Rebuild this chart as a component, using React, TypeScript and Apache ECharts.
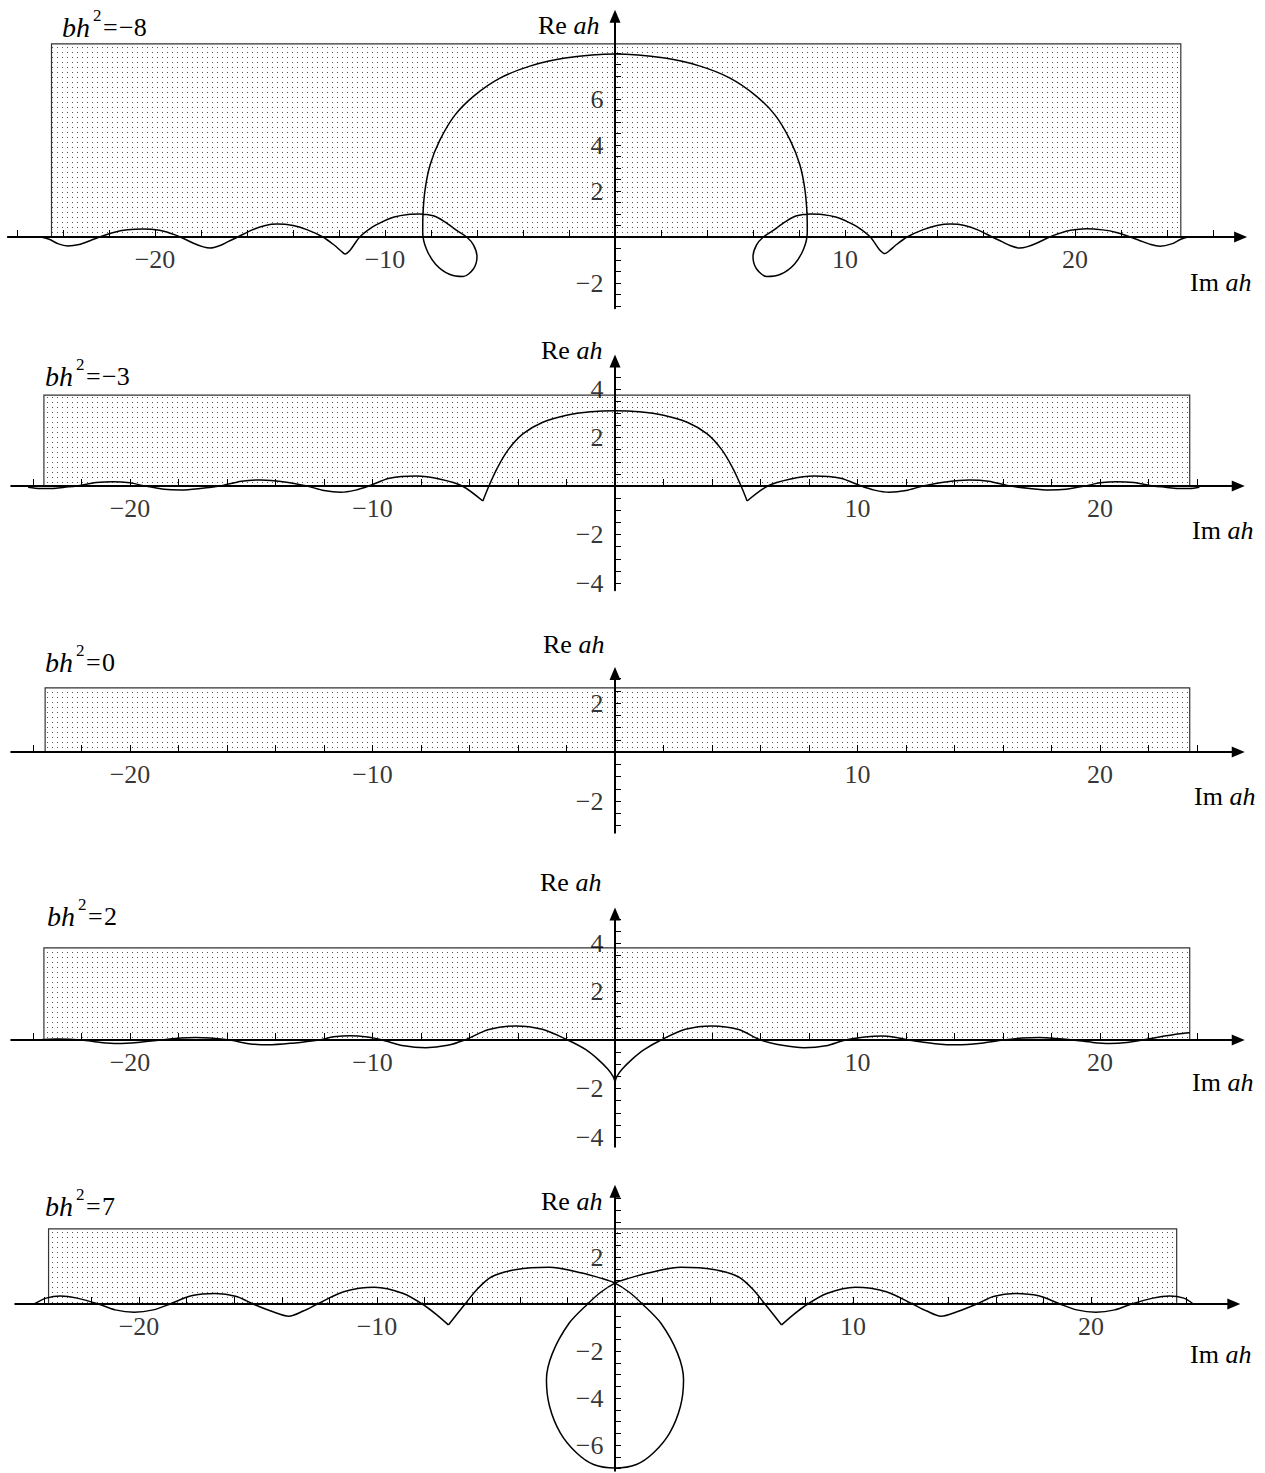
import React, { useEffect, useRef } from 'react';
import * as echarts from 'echarts';

const FONT = '"Liberation Serif", "Times New Roman", serif';

// ---------- data ----------
const titleValues = ['\u22128', '\u22123', '0', '2', '7'];
const xLabelValues = [-20, -10, 10, 20];
const yLabelValues = [
  [-2, 2, 4, 6],
  [-4, -2, 2, 4],
  [-2, 2],
  [-4, -2, 2, 4],
  [-6, -4, -2, 2],
];
// shaded region per panel: [left, right, top]
const rects = [
  [-24.5, 24.6, 8.4],
  [-23.55, 23.7, 3.75],
  [-23.5, 23.7, 2.62],
  [-23.55, 23.7, 3.8],
  [-23.8, 23.6, 3.2],
];

// bh^2 = -8
const curve1: any[] = [
  [-24.95, 0.0], [-24.6, -0.1], [-24.2, -0.3], [-23.8, -0.39], [-23.3, -0.33], [-22.8, -0.15], [-22.4, 0.0],
  [-21.8, 0.2], [-21.2, 0.31], [-20.5, 0.35], [-19.8, 0.29], [-19.3, 0.15], [-18.9, 0.0], [-18.3, -0.28],
  [-17.9, -0.43], [-17.6, -0.48], [-17.2, -0.38], [-16.8, -0.19], [-16.4, 0.0], [-15.8, 0.3], [-15.2, 0.5],
  [-14.7, 0.56], [-14.0, 0.5], [-13.4, 0.32], [-12.7, 0.0], [-12.2, -0.36], [-11.9, -0.62], [-11.74, -0.74],
  [-11.5, -0.55], [-11.1, 0.0], [-10.6, 0.4], [-10.1, 0.67], [-9.6, 0.87], [-9.0, 0.98], [-8.5, 1.0],
  [-7.9, 0.92], [-7.4, 0.66], [-6.9, 0.3], [-6.45, 0.0], [-6.15, -0.35], [-6.0, -0.85], [-6.15, -1.38],
  [-6.6, -1.72], [-7.2, -1.62], [-7.8, -1.18], [-8.2, -0.52], [-8.36, 0.2], [-8.35, 0.96], [-8.26, 2.04],
  [-8.04, 3.13], [-7.61, 4.22], [-6.96, 5.3], [-6.09, 6.17], [-5.0, 6.91], [-3.7, 7.43], [-2.17, 7.78],
  [0, 7.96], [2.17, 7.78], [3.7, 7.43], [5.0, 6.91], [6.09, 6.17], [6.96, 5.3], [7.61, 4.22], [8.04, 3.13],
  [8.26, 2.04], [8.35, 0.96], [8.36, 0.2], [8.2, -0.52], [7.8, -1.18], [7.2, -1.62], [6.6, -1.72],
  [6.15, -1.38], [6.0, -0.85], [6.15, -0.35], [6.45, 0.0], [6.9, 0.3], [7.4, 0.66], [7.9, 0.92], [8.5, 1.0],
  [9.0, 0.98], [9.6, 0.87], [10.1, 0.67], [10.6, 0.4], [11.1, 0.0], [11.5, -0.55], [11.74, -0.72],
  [11.9, -0.62], [12.2, -0.36], [12.7, 0.0], [13.4, 0.32], [14.0, 0.5], [14.6, 0.56], [15.2, 0.5],
  [15.8, 0.3], [16.4, 0.0], [16.8, -0.19], [17.2, -0.38], [17.6, -0.48], [17.9, -0.43], [18.3, -0.28],
  [18.9, 0.0], [19.3, 0.15], [19.8, 0.29], [20.5, 0.36], [21.2, 0.31], [21.8, 0.2], [22.4, 0.0],
  [22.8, -0.15], [23.3, -0.33], [23.7, -0.4], [24.2, -0.3], [24.6, -0.1], [24.9, 0.0],
];

// bh^2 = -3 (null = cusp split)
const curve2: any[] = [
  [-24.2, -0.05], [-23.7, -0.1], [-23.2, -0.1], [-22.7, -0.05], [-22.2, 0.0], [-21.4, 0.14], [-20.7, 0.18],
  [-20.0, 0.13], [-19.4, 0.0], [-18.6, -0.13], [-17.9, -0.16], [-17.1, -0.1], [-16.3, 0.0], [-15.4, 0.2],
  [-14.6, 0.25], [-13.7, 0.18], [-12.7, 0.0], [-12.0, -0.19], [-11.3, -0.26], [-10.7, -0.17], [-10.15, 0.0],
  [-9.3, 0.32], [-8.2, 0.41], [-7.2, 0.28], [-6.3, 0.0], [-5.45, -0.62],
  null,
  [-5.45, -0.62], [-5.2, 0.0], [-4.85, 0.75], [-4.4, 1.5], [-3.8, 2.15], [-3.0, 2.62], [-2.0, 2.92],
  [-1.0, 3.06], [0, 3.1], [1.0, 3.06], [2.0, 2.92], [3.0, 2.62], [3.8, 2.15], [4.4, 1.5], [4.85, 0.75],
  [5.2, 0.0], [5.45, -0.62],
  null,
  [5.45, -0.62], [6.3, 0.0], [7.2, 0.28], [8.2, 0.41], [9.3, 0.32], [10.15, 0.0], [10.7, -0.17], [11.3, -0.26],
  [12.0, -0.19], [12.7, 0.0], [13.7, 0.18], [14.6, 0.25], [15.4, 0.2], [16.3, 0.0], [17.1, -0.1], [17.9, -0.16],
  [18.6, -0.13], [19.4, 0.0], [20.0, 0.13], [20.7, 0.18], [21.4, 0.14], [22.2, 0.0], [22.7, -0.05],
  [23.2, -0.1], [23.7, -0.1], [24.1, -0.05],
];

// bh^2 = 0 : no curve
const curve3: any[] = [];

// bh^2 = 2
const curve4: any[] = [
  [-23.8, 0.0], [-23.0, 0.04], [-22.0, 0.0], [-21.2, -0.1], [-20.5, -0.14], [-19.7, -0.1], [-18.7, 0.0],
  [-17.9, 0.08], [-17.3, 0.1], [-16.7, 0.08], [-15.9, 0.0], [-15.1, -0.15], [-14.3, -0.2], [-13.3, -0.13],
  [-12.2, 0.0], [-11.6, 0.13], [-10.9, 0.18], [-10.2, 0.12], [-9.6, 0.0], [-8.7, -0.24], [-7.8, -0.32],
  [-6.9, -0.22], [-6.2, 0.0], [-5.2, 0.43], [-4.1, 0.58], [-3.0, 0.44], [-1.95, 0.0], [-1.2, -0.4],
  [-0.7, -0.8], [-0.3, -1.2], [-0.08, -1.5], [0, -1.72],
  null,
  [0, -1.72], [0.08, -1.5], [0.3, -1.2], [0.7, -0.8], [1.2, -0.4], [1.9, 0.0], [2.9, 0.44], [4.0, 0.58],
  [5.1, 0.43], [6.0, 0.0], [6.9, -0.22], [7.8, -0.32], [8.7, -0.24], [9.5, 0.0], [10.3, 0.12], [11.0, 0.16],
  [11.6, 0.1], [12.1, 0.0], [13.2, -0.15], [14.1, -0.2], [15.1, -0.13], [16.0, 0.0], [16.8, 0.08],
  [17.5, 0.1], [18.2, 0.06], [18.9, 0.0], [19.7, -0.1], [20.4, -0.14], [21.1, -0.1], [21.75, 0.0],
  [22.6, 0.15], [23.2, 0.25], [23.7, 0.3],
];

// bh^2 = 7
const curve5: any[] = [
  [-24.4, 0.0], [-23.9, 0.25], [-23.3, 0.34], [-22.6, 0.25], [-21.7, 0.0], [-21.0, -0.25], [-20.2, -0.35],
  [-19.4, -0.25], [-18.7, 0.0], [-17.8, 0.35], [-16.8, 0.45], [-15.9, 0.32], [-15.2, 0.0], [-14.4, -0.32],
  [-13.7, -0.52], [-13.1, -0.3], [-12.5, 0.0], [-11.4, 0.52], [-10.1, 0.71], [-8.9, 0.45], [-8.1, 0.0],
  [-7.5, -0.45], [-7.0, -0.89],
  null,
  [-7.0, -0.89], [-6.3, 0.0], [-5.8, 0.62], [-5.18, 1.16], [-4.14, 1.47], [-2.77, 1.56], [-1.39, 1.32],
  [-0.6, 1.1], [0, 0.89], [0.6, 0.5], [1.15, 0.0], [1.93, -0.82], [2.63, -2.1], [2.88, -3.22], [2.75, -4.35],
  [2.3, -5.48], [1.62, -6.33], [0.9, -6.83], [0, -6.98], [-0.9, -6.83], [-1.62, -6.33], [-2.3, -5.48],
  [-2.75, -4.35], [-2.88, -3.22], [-2.63, -2.1], [-1.93, -0.82], [-1.15, 0.0], [-0.6, 0.5], [0, 0.89],
  [0.6, 1.1], [1.39, 1.32], [2.77, 1.56], [4.14, 1.47], [5.18, 1.16], [5.8, 0.62], [6.3, 0.0], [7.0, -0.89],
  null,
  [7.0, -0.89], [7.5, -0.45], [8.1, 0.0], [8.9, 0.45], [10.1, 0.71], [11.4, 0.52], [12.5, 0.0], [13.1, -0.3],
  [13.7, -0.52], [14.4, -0.32], [15.2, 0.0], [15.9, 0.32], [16.8, 0.45], [17.8, 0.35], [18.7, 0.0],
  [19.4, -0.25], [20.2, -0.35], [21.0, -0.25], [21.7, 0.0], [22.6, 0.25], [23.3, 0.34], [23.9, 0.25],
  [24.3, 0.0],
];

const curves = [curve1, curve2, curve3, curve4, curve5];

// ---------- layout ----------
const range = (a: number, b: number, s: number) => {
  const out: number[] = [];
  for (let v = a; v <= b + 1e-9; v += s) out.push(Math.round(v * 100) / 100);
  return out;
};

const panels = [
  { ox: 615, oy: 237, sx: 23, sy: 23, xMin: -26.4, xMax: 27.2, yMin: -3.1, yMax: 9.6,
    xt: range(-26, 26, 2), yt: range(-3, 8, 0.5),
    title: [62, 27], re: [538, 25], im: [1190, 282] },
  { ox: 615, oy: 486, sx: 24.25, sy: 24.25, xMin: -24.9, xMax: 25.7, yMin: -4.3, yMax: 5.15,
    xt: range(-24, 24, 2), yt: range(-4, 4.5, 0.5),
    title: [45, 376], re: [541, 350], im: [1192, 530] },
  { ox: 615, oy: 752, sx: 24.25, sy: 24.5, xMin: -24.9, xMax: 25.7, yMin: -3.3, yMax: 3.2,
    xt: range(-24, 24, 2), yt: range(-3, 3, 0.5),
    title: [45, 662], re: [543, 644], im: [1194, 796] },
  { ox: 615, oy: 1040, sx: 24.25, sy: 24.25, xMin: -24.9, xMax: 25.7, yMin: -4.4, yMax: 5.2,
    xt: range(-24, 24, 2), yt: range(-4, 5, 0.5),
    title: [47, 916], re: [540, 882], im: [1192, 1082] },
  { ox: 615, oy: 1304, sx: 23.8, sy: 23.5, xMin: -25.2, xMax: 26.0, yMin: -7.1, yMax: 4.8,
    xt: range(-24, 24, 2), yt: range(-7, 4.5, 0.5),
    title: [45, 1206], re: [541, 1201], im: [1190, 1354] },
];

const fmt = (v: number) => (v < 0 ? '\u2212' + -v : String(v));

function splitSegments(arr: any[]) {
  const out: any[][] = [];
  let cur: any[] = [];
  for (const p of arr) {
    if (p === null) {
      out.push(cur);
      cur = [];
    } else cur.push(p);
  }
  if (cur.length) out.push(cur);
  return out;
}

function textEl(x: number, y: number, text: string, size: number, italic = false) {
  return {
    type: 'text',
    x,
    y,
    z: 10,
    style: {
      text,
      fontSize: size,
      fontFamily: FONT,
      fontStyle: italic ? 'italic' : 'normal',
      fill: '#000',
      verticalAlign: 'middle',
      align: 'left',
    },
  };
}

function richName(x: number, y: number, a: string) {
  return {
    type: 'text',
    x,
    y,
    z: 10,
    style: {
      text: `{r|${a} }{i|ah}`,
      verticalAlign: 'middle',
      align: 'left',
      rich: {
        r: { fontSize: 26, fontFamily: FONT, fill: '#000' },
        i: { fontSize: 26, fontFamily: FONT, fontStyle: 'italic', fill: '#000' },
      },
    },
  };
}

export default function App() {
  const ref = useRef<HTMLDivElement>(null);

  useEffect(() => {
    if (!ref.current) return;
    const chart = echarts.init(ref.current, undefined, { renderer: 'svg' });

    const cv = document.createElement('canvas');
    cv.width = 5;
    cv.height = 5;
    const ctx = cv.getContext('2d');
    if (ctx) {
      ctx.fillStyle = '#555';
      ctx.fillRect(2, 2, 1, 1);
    }
    const dots: any = { image: cv, repeat: 'repeat', imageWidth: 5, imageHeight: 5 };

    const grids = panels.map((p) => ({
      left: p.ox + p.xMin * p.sx,
      top: p.oy - p.yMax * p.sy,
      width: (p.xMax - p.xMin) * p.sx,
      height: (p.yMax - p.yMin) * p.sy,
      containLabel: false,
      outerBoundsMode: 'none',
      show: false,
    }));

    const axisLine = {
      show: true,
      onZero: true,
      symbol: ['none', 'triangle'],
      symbolSize: [11, 13],
      lineStyle: { color: '#000', width: 2 },
    };

    const xAxes = panels.map((p, i) => ({
      type: 'value',
      gridIndex: i,
      min: p.xMin,
      max: p.xMax,
      z: 5,
      axisLine,
      axisTick: { show: true, inside: true, length: 7, customValues: p.xt, lineStyle: { color: '#000', width: 1 } },
      axisLabel: { show: false },
      splitLine: { show: false },
    }));

    const yAxes = panels.map((p, i) => ({
      type: 'value',
      gridIndex: i,
      min: p.yMin,
      max: p.yMax,
      z: 5,
      axisLine,
      axisTick: { show: true, inside: true, length: 6, customValues: p.yt, lineStyle: { color: '#000', width: 1 } },
      axisLabel: { show: false },
      splitLine: { show: false },
    }));

    const labelText = { fontFamily: FONT, fontSize: 26, color: '#000' };

    const series: any[] = [];
    panels.forEach((p, i) => {
      series.push({
        type: 'custom',
        xAxisIndex: i,
        yAxisIndex: i,
        z: 1,
        silent: true,
        clip: false,
        data: [rects[i]],
        encode: { x: [0, 1], y: 2 },
        renderItem: (params: any, api: any) => {
          const a = api.coord([api.value(0), api.value(2)]);
          const b = api.coord([api.value(1), 0]);
          return {
            type: 'rect',
            shape: { x: a[0], y: a[1], width: b[0] - a[0], height: b[1] - a[1] },
            style: { fill: dots, stroke: '#333', lineWidth: 1.2 },
          };
        },
      });
      splitSegments(curves[i]).forEach((seg) => {
        if (!seg.length) return;
        series.push({
          type: 'line',
          xAxisIndex: i,
          yAxisIndex: i,
          z: 6,
          silent: true,
          clip: false,
          data: seg,
          showSymbol: false,
          symbol: 'none',
          smooth: 0.3,
          lineStyle: { color: '#000', width: 1.5 },
        });
      });
      // tick labels placed through the axes' own scales
      series.push({
        type: 'scatter',
        xAxisIndex: i,
        yAxisIndex: i,
        z: 7,
        silent: true,
        symbolSize: 1,
        itemStyle: { color: 'rgba(0,0,0,0)' },
        data: xLabelValues.map((v) => [v, 0]),
        label: {
          show: true,
          position: 'bottom',
          distance: 9,
          formatter: (d: any) => fmt(d.value[0]),
          ...labelText,
        },
      });
      series.push({
        type: 'scatter',
        xAxisIndex: i,
        yAxisIndex: i,
        z: 7,
        silent: true,
        symbolSize: 1,
        itemStyle: { color: 'rgba(0,0,0,0)' },
        data: yLabelValues[i].map((v) => [0, v]),
        label: {
          show: true,
          position: 'left',
          distance: 11,
          formatter: (d: any) => fmt(d.value[1]),
          ...labelText,
        },
      });
    });

    const graphics: any[] = [];
    panels.forEach((p, i) => {
      const [tx, ty] = p.title;
      graphics.push(textEl(tx, ty, 'bh', 28, true));
      graphics.push(textEl(tx + 31, ty - 12, '2', 17));
      graphics.push(textEl(tx + 41, ty, '=', 26));
      graphics.push(textEl(tx + 57, ty, titleValues[i], 26));
      graphics.push(richName(p.re[0], p.re[1], 'Re'));
      graphics.push(richName(p.im[0], p.im[1], 'Im'));
    });

    chart.setOption({
      animation: false,
      backgroundColor: '#fff',
      grid: grids,
      xAxis: xAxes,
      yAxis: yAxes,
      series,
      graphic: graphics,
    });

    return () => chart.dispose();
  }, []);

  return (
    <div
      ref={ref}
      style={{ position: 'absolute', left: 0, top: 0, width: 1265, height: 1473, background: '#fff' }}
    />
  );
}
